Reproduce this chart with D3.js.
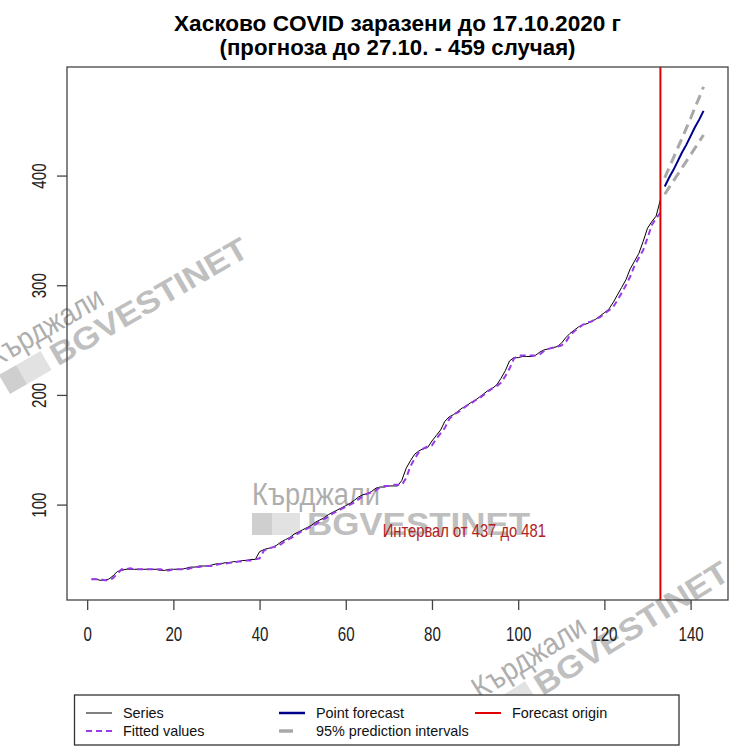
<!DOCTYPE html>
<html>
<head>
<meta charset="utf-8">
<script src="https://cdn.jsdelivr.net/npm/d3@7"></script>
<style>
  body { margin: 0; background: #fff; }
  text { font-family: "Liberation Sans", Arial, sans-serif; }
</style>
</head>
<body>
<script>
let width = 750, height = 750;

// cumulative cases, days 1..133
let series = [32, 32, 31, 31, 32, 35, 39, 40, 41, 41, 41, 41, 41, 41, 41, 41, 40, 40, 41, 41,
  41, 41, 42, 43, 43, 44, 44, 44, 45, 46, 46, 47, 47, 48, 48, 49, 49, 50, 50, 57,
  59, 60, 61, 63, 66, 68, 70, 73, 75, 77, 79, 81, 84, 86, 88, 91, 93, 95, 97, 99,
  101, 104, 107, 109, 110, 112, 115, 116, 116, 117, 117, 117, 122, 133, 140, 146, 149, 151, 152, 158,
  163, 168, 176, 180, 182, 185, 188, 190, 193, 195, 198, 201, 204, 206, 209, 215, 222, 231, 234, 234,
  235, 235, 235, 236, 239, 241, 242, 243, 244, 247, 252, 256, 259, 262, 264, 265, 267, 269, 272, 275,
  278, 284, 291, 298, 305, 315, 322, 329, 340, 352, 358, 363, 378];

let fitted = [32, 32, 32, 31, 31, 33, 37, 41, 41, 42, 41, 41, 41, 41, 41, 41, 41, 40, 40, 41,
  41, 41, 41, 42, 43, 43, 44, 44, 44, 45, 46, 46, 47, 47, 48, 48, 49, 49, 50, 51,
  58, 60, 61, 62, 64, 67, 69, 71, 74, 76, 78, 80, 82, 85, 87, 89, 92, 94, 96, 98,
  100, 102, 105, 108, 110, 111, 113, 116, 117, 117, 118, 118, 118, 124, 135, 142, 148, 151, 153, 154,
  160, 165, 170, 178, 182, 184, 187, 190, 192, 195, 197, 200, 203, 206, 208, 211, 217, 224, 233, 236,
  236, 236, 236, 236, 237, 240, 242, 243, 244, 245, 248, 254, 258, 261, 264, 266, 267, 269, 271, 274,
  277, 280, 286, 293, 300, 308, 318, 325, 332, 343, 355, 361, 366];

// forecast days 134..143
let fcDays = [134, 135, 136, 137, 138, 139, 140, 141, 142, 143];
let fcPoint = [390, 398, 405, 413, 421, 428, 436, 444, 451, 459];
let fcLower = [383, 389, 395, 401, 407, 413, 419, 425, 431, 437];
let fcUpper = [398, 407, 416, 425, 434, 443, 452, 462, 471, 481];

let forecastOrigin = 133;
let xTicks = [0, 20, 40, 60, 80, 100, 120, 140];
let yTicks = [100, 200, 300, 400];

let titleLines = ["Хасково COVID заразени до 17.10.2020 г", "(прогноза до 27.10. - 459 случая)"];
let intervalNote = { x: 87.5, y: 76, label: "Интервал от 437 до 481" };

let margin = { top: 67, right: 22, bottom: 150, left: 67 };

let svg = d3.select("body").append("svg")
    .attr("width", width)
    .attr("height", height);

// R style 4% padding on the data range
function pad(ext) {
  let d = (ext[1] - ext[0]) * 0.04;
  return [ext[0] - d, ext[1] + d];
}

let days = series.map((d, i) => i + 1);
let x = d3.scaleLinear()
    .domain(pad([1, d3.max(fcDays)]))
    .range([margin.left, width - margin.right]);
let y = d3.scaleLinear()
    .domain(pad([d3.min(series.concat(fitted)), d3.max(fcUpper)]))
    .range([height - margin.bottom, margin.top]);

let sx = 0.72; // narrow look of the picture's tick text

// watermarks
function watermark(tr) {
  let g = svg.append("g").attr("transform", tr).attr("opacity", 0.8);
  g.append("text").text("Кърджали")
      .attr("font-size", 31).attr("fill", "#9a9a9a")
      .attr("textLength", 128).attr("lengthAdjust", "spacingAndGlyphs");
  g.append("rect").attr("x", 0).attr("y", 8).attr("width", 20).attr("height", 22).attr("fill", "#c4c4c4");
  g.append("rect").attr("x", 20).attr("y", 8).attr("width", 28).attr("height", 22).attr("fill", "#dcdcdc");
  g.append("text").text("BGVESTINET")
      .attr("x", 55).attr("y", 30)
      .attr("font-size", 31).attr("font-weight", "bold").attr("fill", "#b0b0b0")
      .attr("textLength", 223).attr("lengthAdjust", "spacingAndGlyphs");
}
watermark("translate(-5,368) rotate(-30)");
watermark("translate(252,505)");
watermark("translate(480,700) rotate(-32)");

// lines
let line = d3.line().x(d => x(d[0])).y(d => y(d[1]));

svg.append("path")
    .attr("d", line(days.map((d, i) => [d, series[i]])))
    .attr("fill", "none").attr("stroke", "#000").attr("stroke-width", 1);

svg.append("path")
    .attr("d", line(days.map((d, i) => [d, fitted[i]])))
    .attr("fill", "none").attr("stroke", "#9a3ae6").attr("stroke-width", 2)
    .attr("stroke-dasharray", "6,4");

[fcLower, fcUpper].forEach(arr => {
  svg.append("path")
      .attr("d", line(fcDays.map((d, i) => [d, arr[i]])))
      .attr("fill", "none").attr("stroke", "#a9a9a9").attr("stroke-width", 3)
      .attr("stroke-dasharray", "10,6");
});

svg.append("path")
    .attr("d", line(fcDays.map((d, i) => [d, fcPoint[i]])))
    .attr("fill", "none").attr("stroke", "#00008b").attr("stroke-width", 2);

svg.append("line")
    .attr("x1", x(forecastOrigin)).attr("x2", x(forecastOrigin))
    .attr("y1", y.range()[1]).attr("y2", y.range()[0])
    .attr("stroke", "#e00000").attr("stroke-width", 2);

// note
svg.append("text")
    .attr("transform", "translate(" + x(intervalNote.x) + "," + (y(intervalNote.y) + 6) + ") scale(0.82,1)")
    .attr("text-anchor", "middle").attr("font-size", 18).attr("fill", "#b22222")
    .text(intervalNote.label);

// box
svg.append("rect")
    .attr("x", x.range()[0]).attr("y", y.range()[1])
    .attr("width", x.range()[1] - x.range()[0])
    .attr("height", y.range()[0] - y.range()[1])
    .attr("fill", "none").attr("stroke", "#444").attr("stroke-width", 1.3);

// axes
let xAxis = svg.append("g")
    .attr("transform", "translate(0," + y.range()[0] + ")")
    .call(d3.axisBottom(x).tickValues(xTicks).tickSize(10).tickFormat(d3.format("d")));
xAxis.select(".domain").remove();
xAxis.selectAll("line").attr("stroke", "#444").attr("stroke-width", 1.3);
xAxis.selectAll("text")
    .attr("y", 0).attr("dy", 0)
    .attr("transform", "translate(0,41) scale(" + sx + ",1)")
    .attr("font-size", 21).attr("fill", "#222").attr("font-family", null);

let yAxis = svg.append("g")
    .attr("transform", "translate(" + x.range()[0] + ",0)")
    .call(d3.axisLeft(y).tickValues(yTicks).tickSize(10).tickFormat(d3.format("d")));
yAxis.select(".domain").remove();
yAxis.selectAll("line").attr("stroke", "#444").attr("stroke-width", 1.3);
yAxis.selectAll("text")
    .attr("x", 0).attr("dy", 0)
    .attr("text-anchor", "middle")
    .attr("transform", "translate(-21,0) rotate(-90) scale(" + sx + ",1)")
    .attr("font-size", 21).attr("fill", "#222").attr("font-family", null);

// title
svg.selectAll(".title")
  .data(titleLines)
  .enter().append("text")
    .attr("class", "title")
    .attr("x", (x.range()[0] + x.range()[1]) / 2)
    .attr("y", (d, i) => 31 + i * 24)
    .attr("text-anchor", "middle")
    .attr("font-size", 22).attr("font-weight", "bold")
    .attr("textLength", (d, i) => i === 0 ? 447 : 356)
    .attr("lengthAdjust", "spacingAndGlyphs")
    .text(d => d);

// legend
let legendItems = [
  { label: "Series", color: "#000", w: 1, dash: null, col: 0, row: 0 },
  { label: "Fitted values", color: "#9a3ae6", w: 2, dash: "6,4", col: 0, row: 1 },
  { label: "Point forecast", color: "#00008b", w: 2.5, dash: null, col: 1, row: 0 },
  { label: "95% prediction intervals", color: "#a9a9a9", w: 3.5, dash: "14,20", col: 1, row: 1 },
  { label: "Forecast origin", color: "#e00000", w: 2, dash: null, col: 2, row: 0 }
];
let colX = [86, 279, 475];

svg.append("rect")
    .attr("x", 74.5).attr("y", 695).attr("width", 604.5).attr("height", 50)
    .attr("fill", "#fff").attr("stroke", "#333").attr("stroke-width", 1.3);

let lg = svg.selectAll(".leg")
  .data(legendItems)
  .enter().append("g")
    .attr("class", "leg")
    .attr("transform", d => "translate(" + colX[d.col] + "," + (713 + d.row * 18) + ")");

lg.append("line")
    .attr("x1", 0).attr("x2", 26)
    .attr("stroke", d => d.color).attr("stroke-width", d => d.w)
    .attr("stroke-dasharray", d => d.dash);

lg.append("text")
    .attr("transform", "translate(37,5) scale(0.96,1)")
    .attr("font-size", 15).attr("fill", "#111")
    .text(d => d.label);
</script>
</body>
</html>
